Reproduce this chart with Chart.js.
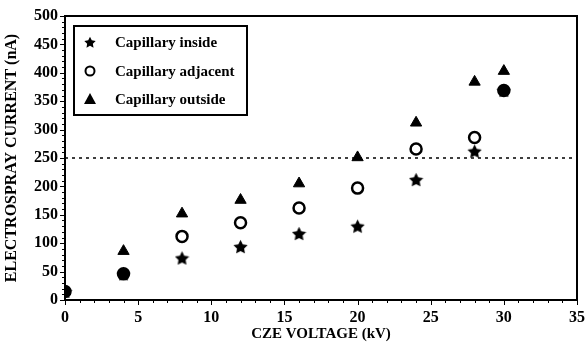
<!DOCTYPE html>
<html>
<head>
<meta charset="utf-8">
<script src="https://cdn.jsdelivr.net/npm/chart.js@4.4.1/dist/chart.umd.min.js"></script>
<style>
  html, body { margin: 0; padding: 0; background: #fff; }
  #wrap { width: 586px; height: 343px; }
</style>
</head>
<body>
<div id="wrap"><canvas id="chart" width="586" height="343"></canvas></div>
<script>
var voltage   = [0, 4, 8, 12, 16, 20, 24, 28, 30];
var inside    = [15, 46, 74, 94, 117, 130, 212, 262, 369];
var adjacent  = [15, 46, 112, 136, 162, 197, 266, 286, 369];
var outside   = [15, 86, 152, 176, 205, 251, 312, 384, 403];
var refLineX  = [0, 35];
var refLineY  = [250, 250];
var seriesNames = ["Capillary inside", "Capillary adjacent", "Capillary outside"];

var FONT = "'Liberation Serif', 'DejaVu Serif', serif";

function pts(xs, ys) {
    return xs.map(function (x, i) { return { x: x, y: ys[i] }; });
}

// filled five point star, used as point image
function makeStar(size) {
    var c = document.createElement("canvas");
    c.width = size; c.height = size;
    var g = c.getContext("2d");
    var cx = size / 2, cy = size / 2 + 0.8, ro = size / 2, ri = ro * 0.5;
    g.beginPath();
    for (var i = 0; i < 10; i++) {
        var r = i % 2 ? ri : ro;
        var a = -Math.PI / 2 + i * Math.PI / 5;
        g.lineTo(cx + r * Math.cos(a), cy + r * Math.sin(a));
    }
    g.closePath();
    g.fillStyle = "#000";
    g.fill();
    return c;
}
var starImg = makeStar(15);
var legendStar = makeStar(12);

var frame = {
    id: "frame",
    afterDraw: function (chart) {
        var a = chart.chartArea, g = chart.ctx;
        var xs = chart.scales.x, ys = chart.scales.y;
        g.save();
        g.strokeStyle = "#000";
        g.lineWidth = 2;
        g.strokeRect(a.left, a.top, a.right - a.left, a.bottom - a.top);
        // minor ticks
        g.lineWidth = 1;
        g.beginPath();
        for (var v = 0; v <= 35; v++) {
            var px = Math.round(xs.getPixelForValue(v)) + 0.5;
            var len = v % 5 === 0 ? 5 : 3;
            g.moveTo(px, a.bottom); g.lineTo(px, a.bottom + len);
        }
        for (var w = 0; w <= 500; w += 10) {
            var py = Math.round(ys.getPixelForValue(w)) + 0.5;
            var l2 = w % 50 === 0 ? 5 : 3;
            g.moveTo(a.left, py); g.lineTo(a.left - l2, py);
        }
        g.stroke();

        // legend box
        var bx = a.left + 9, by = a.top + 10, bw = 173, bh = 89;
        g.fillStyle = "#fff";
        g.fillRect(bx, by, bw, bh);
        g.lineWidth = 2;
        g.strokeRect(bx, by, bw, bh);
        g.fillStyle = "#000";
        g.font = "bold 15px " + FONT;
        g.textBaseline = "middle";
        var rows = [by + 16, by + 45, by + 73];
        var mx = bx + 16;
        g.drawImage(legendStar, mx - 6, rows[0] - 6);
        g.beginPath();
        g.lineWidth = 2;
        g.arc(mx, rows[1], 4.5, 0, Math.PI * 2);
        g.stroke();
        g.beginPath();
        g.moveTo(mx, rows[2] - 6);
        g.lineTo(mx + 6, rows[2] + 5);
        g.lineTo(mx - 6, rows[2] + 5);
        g.closePath();
        g.fill();
        seriesNames.forEach(function (n, i) {
            g.fillText(n, bx + 41, rows[i] + 1);
        });
        g.restore();
    }
};

new Chart(document.getElementById("chart"), {
    type: "scatter",
    data: {
        datasets: [
            {
                type: "line",
                label: "ref",
                data: pts(refLineX, refLineY),
                borderColor: "#000",
                borderWidth: 1.5,
                borderDash: [3, 4],
                pointRadius: 0,
                order: 5
            },
            {
                label: seriesNames[2],
                data: pts(voltage, outside),
                pointStyle: "triangle",
                pointRadius: 6.5,
                backgroundColor: "#000",
                borderColor: "#000",
                borderWidth: 1
            },
            {
                label: seriesNames[0],
                data: pts(voltage, inside),
                pointStyle: starImg,
                backgroundColor: "#000",
                borderColor: "#000"
            },
            {
                label: seriesNames[1],
                data: pts(voltage, adjacent),
                pointStyle: "circle",
                pointRadius: 5.5,
                // where the star sits under the circle the mark prints solid
                backgroundColor: function (c) {
                    var i = c.dataIndex;
                    return inside[i] === adjacent[i] ? "#000" : "rgba(255,255,255,0)";
                },
                borderColor: "#000",
                borderWidth: 2.5
            }
        ]
    },
    options: {
        responsive: false,
        animation: false,
        layout: { padding: { top: 16, right: 9, left: 0, bottom: 0 } },
        plugins: {
            legend: { display: false },
            tooltip: { enabled: false }
        },
        scales: {
            x: {
                type: "linear",
                min: 0, max: 35,
                ticks: { stepSize: 5, color: "#000", padding: 8,
                         font: { family: FONT, size: 16, weight: "bold" } },
                grid: { display: false, drawTicks: false },
                border: { display: false },
                title: { display: true, text: "CZE VOLTAGE (kV)", color: "#000",
                         padding: { top: 0, bottom: 0 },
                         font: { family: FONT, size: 15, weight: "bold" } },
                afterFit: function (s) {
                    s.height = 43;
                    s.paddingRight = 0;
                    s.paddingLeft = 0;
                }
            },
            y: {
                min: 0, max: 500,
                ticks: { stepSize: 50, color: "#000", padding: 7,
                         font: { family: FONT, size: 16, weight: "bold" } },
                grid: { display: false, drawTicks: false },
                border: { display: false },
                title: { display: true, text: "ELECTROSPRAY CURRENT (nA)", color: "#000",
                         padding: { top: 2, bottom: 0 },
                         font: { family: FONT, size: 16, weight: "bold" } },
                afterFit: function (s) {
                    s.width = 65;
                    s.paddingTop = 0;
                    s.paddingBottom = 0;
                }
            }
        }
    },
    plugins: [frame]
});
</script>
</body>
</html>
